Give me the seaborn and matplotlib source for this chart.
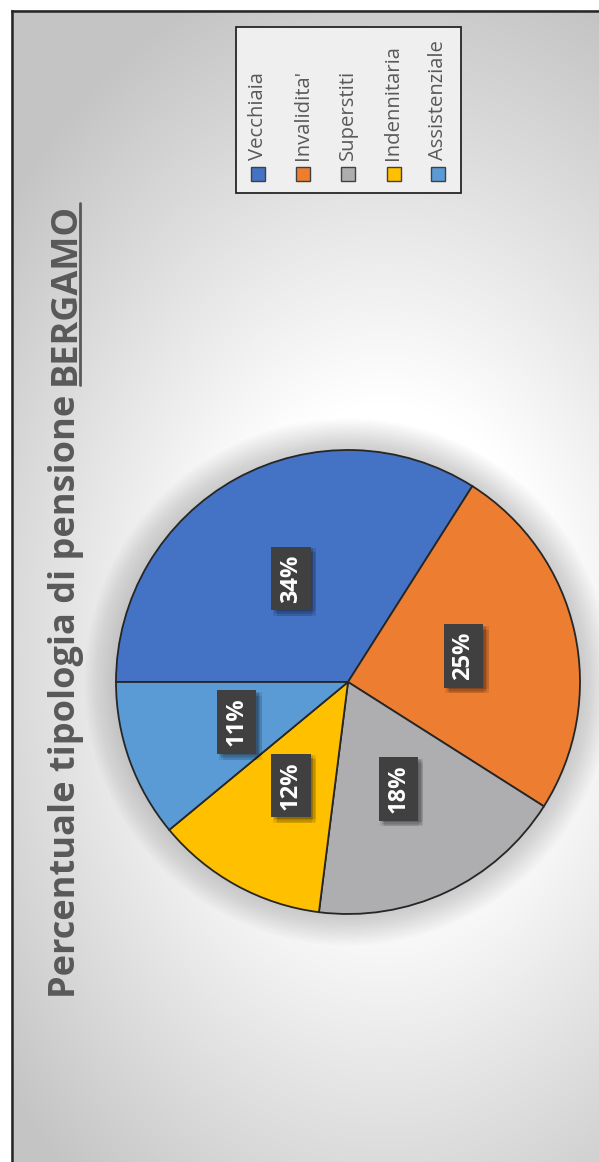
import numpy as np
import matplotlib
matplotlib.use("Agg")
import matplotlib.pyplot as plt
import matplotlib.patheffects as pe
from matplotlib.patches import Rectangle, Circle
import seaborn as sns

# ---------------- data ----------------
categories = ["Vecchiaia", "Invalidita'", "Superstiti", "Indennitaria", "Assistenziale"]
values = [34, 25, 18, 12, 11]
colors_hex = ["#4472C4", "#ED7D31", "#AEAEB1", "#FFC000", "#5B9BD5"]
title_main = "Percentuale tipologia di pensione "
title_city = "BERGAMO"

sns.set_theme(style="white")
plt.rcParams["font.family"] = ["Open Sans", "DejaVu Sans"]
palette = sns.color_palette(colors_hex)

W, H = 599, 1162
fig = plt.figure(figsize=(W / 100, H / 100), dpi=100)
fig.patch.set_facecolor("white")

def fx(px):
    return px / W

def fy(py):
    return 1 - py / H

# ---------------- background (pixel coordinates) ----------------
bg = fig.add_axes([0, 0, 1, 1])
bg.set_xlim(0, W)
bg.set_ylim(H, 0)
bg.axis("off")
yy, xx = np.mgrid[0:H, 0:W]
d = np.sqrt(((xx - 380) / 500.0) ** 2 + ((yy - 640) / 700.0) ** 2)
t = np.clip((d - 0.35) / 0.65, 0, 1)
v = 1 - 0.23 * t
img = np.dstack([v, v, v])
bg.imshow(img, extent=(11, W, H, 10), aspect="auto", zorder=0, interpolation="bilinear")
bg.plot([11.5, 11.5], [H + 5, 10.5], color="#262626", lw=1.8, solid_capstyle="projecting", zorder=2)
bg.plot([11.5, W + 5], [10.5, 10.5], color="#262626", lw=1.8, solid_capstyle="projecting", zorder=2)

# ---------------- legend (rotated, drawn manually) ----------------
bg.add_patch(Rectangle((235.5, 27), 225, 166, facecolor="#efefef", edgecolor="#262626", lw=1.3, zorder=3))
col_x = [258, 303, 348, 393.5, 438]
for cx, lab, col in zip(col_x, categories, palette):
    bg.add_patch(Rectangle((cx - 7, 167), 14, 14, facecolor=col, edgecolor="#404040", lw=1.0, zorder=4))
    bg.text(cx, 160, lab, rotation=90, rotation_mode="anchor", ha="left", va="center",
            fontsize=14.6, color="#595959", zorder=5)

# ---------------- pie ----------------
R = 232
S = 1.2
cxp, cyp = 348, 682
ax = fig.add_axes([fx(cxp - R * S), fy(cyp + R * S), 2 * R * S / W, 2 * R * S / H])
ax.set_facecolor("none")
for k in range(1, 18):
    ax.add_patch(Circle((0, 0), 1 + k * 0.008, facecolor="#808080", edgecolor="none", alpha=0.025, zorder=0))

wedges, texts, autotexts = ax.pie(
    values, colors=palette, startangle=180, counterclock=False, radius=1,
    autopct="%1.0f%%", pctdistance=0.51,
    wedgeprops=dict(edgecolor="#262626", linewidth=1.3),
)
for w in wedges:
    w.set_zorder(2)
shadow_fx = [pe.SimplePatchShadow(offset=(ox, oy), shadow_rgbFace="black", alpha=0.09)
             for ox, oy in [(3, -3), (2, -2), (4, -1), (1, -4), (4, -4), (2, -1)]]
for at in autotexts:
    at.set_rotation(90)
    at.set_fontsize(17)
    at.set_fontweight("bold")
    at.set_color("white")
    at.set_ha("center")
    at.set_va("center")
    at.set_zorder(5)
    at.set_bbox(dict(boxstyle="square,pad=0.32", facecolor="#404040", edgecolor="none"))
    at.get_bbox_patch().set_path_effects(shadow_fx + [pe.Normal()])
ax.set_xlim(-S, S)
ax.set_ylim(-S, S)
ax.set_aspect("equal")
ax.axis("off")

# ---------------- title (rotated, with underlined city) ----------------
tx, ty = 75, 998
t1 = fig.text(fx(tx), fy(ty), title_main, rotation=90, rotation_mode="anchor",
              ha="left", va="baseline", fontsize=26, fontweight="bold", color="#595959")
fig.canvas.draw()
r = fig.canvas.get_renderer()
e1 = t1.get_window_extent(r)
t2 = fig.text(fx(tx), e1.y1 / H, title_city, rotation=90, rotation_mode="anchor",
              ha="left", va="baseline", fontsize=26, fontweight="bold", color="#595959")
fig.canvas.draw()
e2 = t2.get_window_extent(r)
bg.plot([tx + 5, tx + 5], [H - e2.y0, H - e2.y1], color="#595959", lw=2.0, zorder=6)

fig.savefig("out.png", dpi=100)
